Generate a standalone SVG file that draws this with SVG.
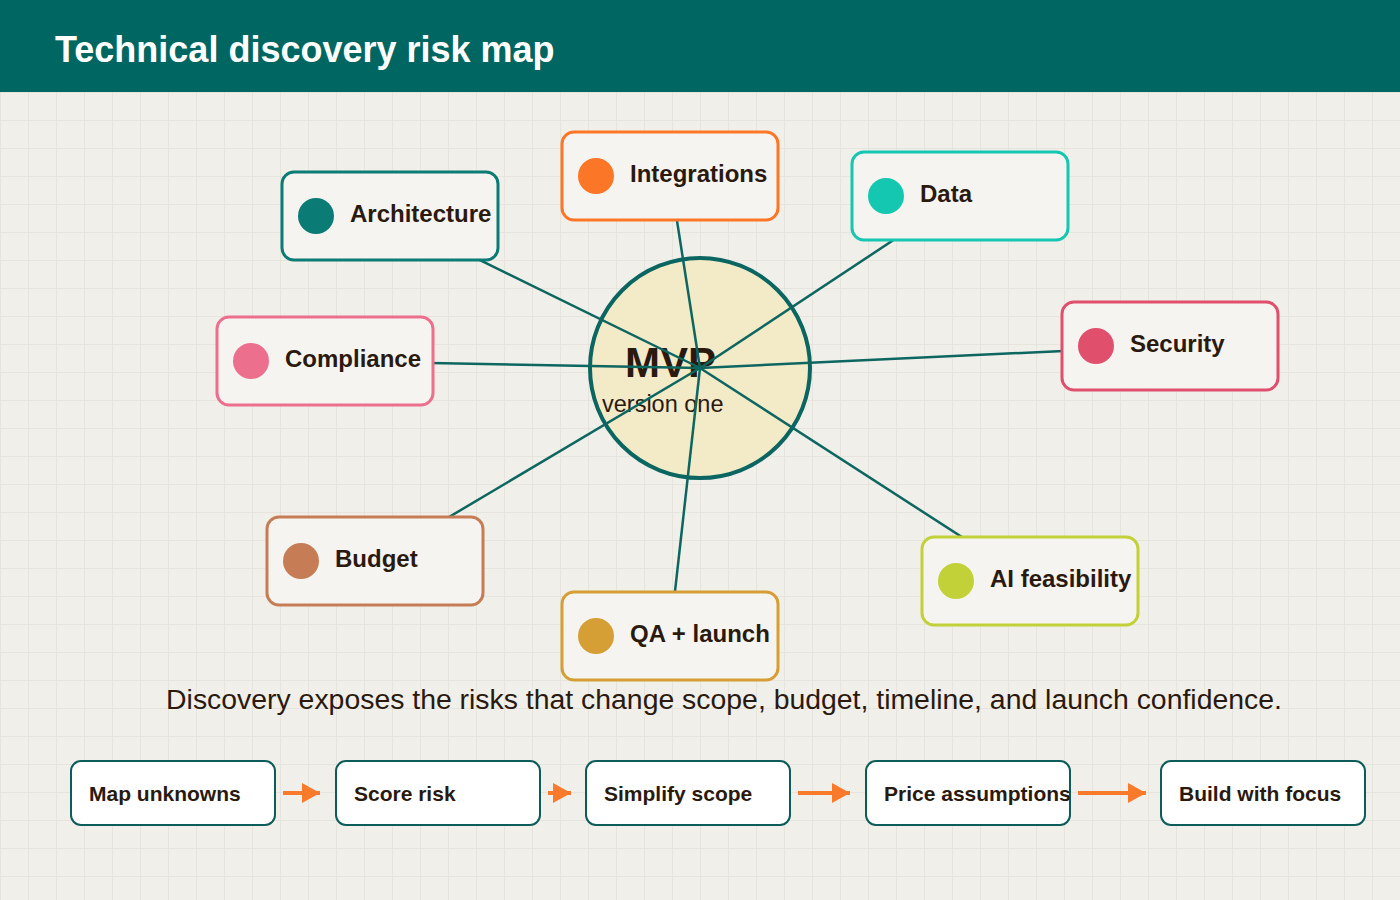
<svg xmlns="http://www.w3.org/2000/svg" width="1400" height="900" viewBox="0 0 1400 900">
  <defs>
    <pattern id="grid" x="0" y="92" width="28" height="28" patternUnits="userSpaceOnUse">
      <path d="M28 0 L0 0 L0 28" fill="none" stroke="#dedad2" stroke-width="1"/>
    </pattern>
    <marker id="arrow" viewBox="0 0 18 20" refX="18" refY="10" markerWidth="18" markerHeight="20" markerUnits="userSpaceOnUse" orient="auto">
      <path d="M0 0 L18 10 L0 20 Z" fill="#f97a2a"/>
    </marker>
    <style>
      .title { font-family: "Liberation Sans", Arial, sans-serif; font-weight: bold; font-size: 36px; fill: #ffffff; }
      .card { fill: #f6f4f0; stroke-width: 3; }
      .label { font-family: "Liberation Sans", Arial, sans-serif; font-weight: bold; font-size: 24px; fill: #2a1a0e; }
      .spoke { stroke: #0d6660; stroke-width: 2.5; }
      .step { fill: #ffffff; stroke: #0d5c5a; stroke-width: 2; }
      .steptext { font-family: "Liberation Sans", Arial, sans-serif; font-weight: bold; font-size: 21px; fill: #2a1a0e; }
      .flow { stroke: #f97a2a; stroke-width: 4; marker-end: url(#arrow); }
      .caption { font-family: "Liberation Sans", Arial, sans-serif; font-size: 28.4px; fill: #2a1a0e; }
    </style>
  </defs>

  <rect x="0" y="0" width="1400" height="900" fill="#f1efea"/>
  <rect x="0" y="92" width="1400" height="808" fill="url(#grid)"/>

  <g id="header">
    <rect x="0" y="0" width="1400" height="92" fill="#006661"/>
    <text class="title" x="55" y="62">Technical discovery risk map</text>
  </g>

  <g id="hub">
    <circle cx="700" cy="368" r="110" fill="#f3eac8" stroke="#0b6662" stroke-width="4"/>
    <text x="625" y="377" font-family="Liberation Sans, Arial, sans-serif" font-weight="bold" font-size="42" fill="#2a1a0e">MVP</text>
    <text x="602" y="412" font-family="Liberation Sans, Arial, sans-serif" font-size="23.5" fill="#2a1a0e">version one</text>
  </g>

  <g id="connectors">
    <line class="spoke" x1="390" y1="216" x2="700" y2="368"/>
    <line class="spoke" x1="670" y1="176" x2="700" y2="368"/>
    <line class="spoke" x1="960" y1="196" x2="700" y2="368"/>
    <line class="spoke" x1="1170" y1="346" x2="700" y2="368"/>
    <line class="spoke" x1="325" y1="361" x2="700" y2="368"/>
    <line class="spoke" x1="375" y1="561" x2="700" y2="368"/>
    <line class="spoke" x1="670" y1="636" x2="700" y2="368"/>
    <line class="spoke" x1="1030" y1="581" x2="700" y2="368"/>
  </g>

  <g id="node-architecture">
    <rect class="card" x="282" y="172" width="216" height="88" rx="12" stroke="#0b7b75"/>
    <circle cx="316" cy="216" r="18" fill="#0b7b75"/>
    <text class="label" x="350" y="222">Architecture</text>
  </g>
  <g id="node-integrations">
    <rect class="card" x="562" y="132" width="216" height="88" rx="12" stroke="#fb7727"/>
    <circle cx="596" cy="176" r="18" fill="#fb7727"/>
    <text class="label" x="630" y="182">Integrations</text>
  </g>
  <g id="node-data">
    <rect class="card" x="852" y="152" width="216" height="88" rx="12" stroke="#14c7b0"/>
    <circle cx="886" cy="196" r="18" fill="#14c7b0"/>
    <text class="label" x="920" y="202">Data</text>
  </g>
  <g id="node-security">
    <rect class="card" x="1062" y="302" width="216" height="88" rx="12" stroke="#e0506c"/>
    <circle cx="1096" cy="346" r="18" fill="#e0506c"/>
    <text class="label" x="1130" y="352">Security</text>
  </g>
  <g id="node-compliance">
    <rect class="card" x="217" y="317" width="216" height="88" rx="12" stroke="#ec6f8e"/>
    <circle cx="251" cy="361" r="18" fill="#ec6f8e"/>
    <text class="label" x="285" y="367">Compliance</text>
  </g>
  <g id="node-budget">
    <rect class="card" x="267" y="517" width="216" height="88" rx="12" stroke="#c67d56"/>
    <circle cx="301" cy="561" r="18" fill="#c67d56"/>
    <text class="label" x="335" y="567">Budget</text>
  </g>
  <g id="node-qa">
    <rect class="card" x="562" y="592" width="216" height="88" rx="12" stroke="#d69f35"/>
    <circle cx="596" cy="636" r="18" fill="#d69f35"/>
    <text class="label" x="630" y="642">QA + launch</text>
  </g>
  <g id="node-ai">
    <rect class="card" x="922" y="537" width="216" height="88" rx="12" stroke="#c3d139"/>
    <circle cx="956" cy="581" r="18" fill="#c3d139"/>
    <text class="label" x="990" y="587">AI feasibility</text>
  </g>

  <g id="caption">
    <text class="caption" x="724" y="709" text-anchor="middle">Discovery exposes the risks that change scope, budget, timeline, and launch confidence.</text>
  </g>

  <g id="step-1">
    <rect class="step" x="71" y="761" width="204" height="64" rx="10"/>
    <text class="steptext" x="89" y="801">Map unknowns</text>
  </g>
  <g id="step-2">
    <rect class="step" x="336" y="761" width="204" height="64" rx="10"/>
    <text class="steptext" x="354" y="801">Score risk</text>
  </g>
  <g id="step-3">
    <rect class="step" x="586" y="761" width="204" height="64" rx="10"/>
    <text class="steptext" x="604" y="801">Simplify scope</text>
  </g>
  <g id="step-4">
    <rect class="step" x="866" y="761" width="204" height="64" rx="10"/>
    <text class="steptext" x="884" y="801">Price assumptions</text>
  </g>
  <g id="step-5">
    <rect class="step" x="1161" y="761" width="204" height="64" rx="10"/>
    <text class="steptext" x="1179" y="801">Build with focus</text>
  </g>

  <g id="flow-connectors">
    <line class="flow" x1="283" y1="793" x2="320" y2="793"/>
    <line class="flow" x1="548" y1="793" x2="571" y2="793"/>
    <line class="flow" x1="798" y1="793" x2="850" y2="793"/>
    <line class="flow" x1="1078" y1="793" x2="1146" y2="793"/>
  </g>
</svg>
